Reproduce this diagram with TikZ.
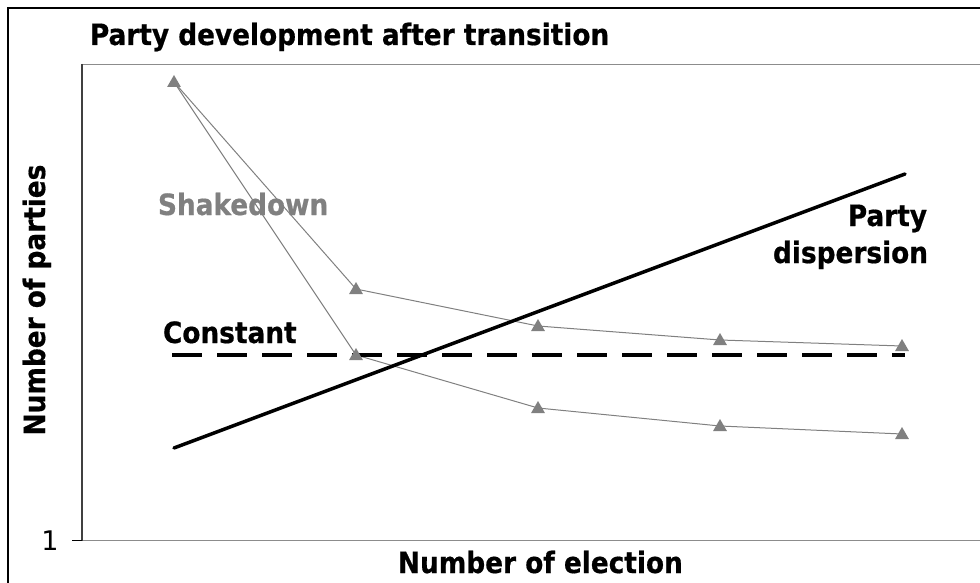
\documentclass[tikz,border=0pt]{standalone}
\usepackage{fontspec}
\IfFontExistsTF{DejaVu Sans Condensed}
  {\newfontfamily\lblfont{DejaVu Sans Condensed}[BoldFeatures={FakeBold=0.6}]}
  {\newfontfamily\lblfont{DejaVu Sans}}
\newfontfamily\numfont{DejaVu Sans}
\usetikzlibrary{shapes.geometric}
\definecolor{sergray}{HTML}{808080}
\definecolor{axgray}{HTML}{8C8C8C}
\tikzset{
  lbl/.style={font=\lblfont\bfseries\fontsize{29.3}{35}\selectfont, inner sep=0pt, outer sep=0pt},
  marker/.style={regular polygon, regular polygon sides=3, fill=sergray, draw=none,
    minimum size=16pt, inner sep=0pt},
  serline/.style={draw=sergray, line width=1pt},
  constline/.style={line width=4pt, dash pattern=on 30pt off 15pt},
  displine/.style={line width=3.5pt, line cap=round},
}
\begin{document}
\begin{tikzpicture}[x=1pt,y=-1pt]
\useasboundingbox (0,0) rectangle (980,583);
% outer frame
\draw[line width=2pt] (8,600) -- (8,8) -- (1000,8);
% plot area
\draw[axgray, line width=1.5pt] (82,64.5) -- (1000,64.5);
\draw[axgray, line width=1.5pt] (82,540.5) -- (1000,540.5);
\draw[black!75, line width=1.5pt] (82,64) -- (82,541);
\draw[black, line width=1pt] (72,540.5) -- (82,540.5);
\node[font=\numfont\fontsize{27}{32}\selectfont, inner sep=0pt] (one) at (50,541) {1};
% titles
\node[lbl, anchor=base west] (title) at (90,45) {Party development after transition};
\node[lbl, anchor=base west] (xlab) at (398,573) {Number of election};
\node[lbl, rotate=90, anchor=base] (ylab) at (45,300) {Number of parties};
% series coordinates
\coordinate (p1) at (174,82);
\coordinate (u2) at (356,289);
\coordinate (u3) at (538,326);
\coordinate (u4) at (720,340);
\coordinate (u5) at (902,346);
\coordinate (l2) at (356,355);
\coordinate (l3) at (538,408);
\coordinate (l4) at (720,426);
\coordinate (l5) at (902,434);
\draw[serline] (p1) -- (u2) -- (u3) -- (u4) -- (u5);
\draw[serline] (p1) -- (l2) -- (l3) -- (l4) -- (l5);
% constant
\coordinate (c1) at (172,355);
\coordinate (c2) at (905,355);
\draw[constline] (c1) -- (c2);
% dispersion
\coordinate (d1) at (174,448);
\coordinate (d2) at (905,174);
\draw[displine] (d1) -- (d2);
% markers
\foreach \p in {p1,u2,u3,u4,u5,l2,l3,l4,l5}
  \node[marker] (m\p) at ([yshift=-1pt]\p) {};
% labels
\node[lbl, anchor=base west, text=sergray] (shake) at (158,215) {Shakedown};
\node[lbl, anchor=base west] (const) at (163,343) {Constant};
\node[lbl, anchor=base east] (party) at (927,226) {Party};
\node[lbl, anchor=base east] (disp) at (928,263) {dispersion};
\end{tikzpicture}
\end{document}
